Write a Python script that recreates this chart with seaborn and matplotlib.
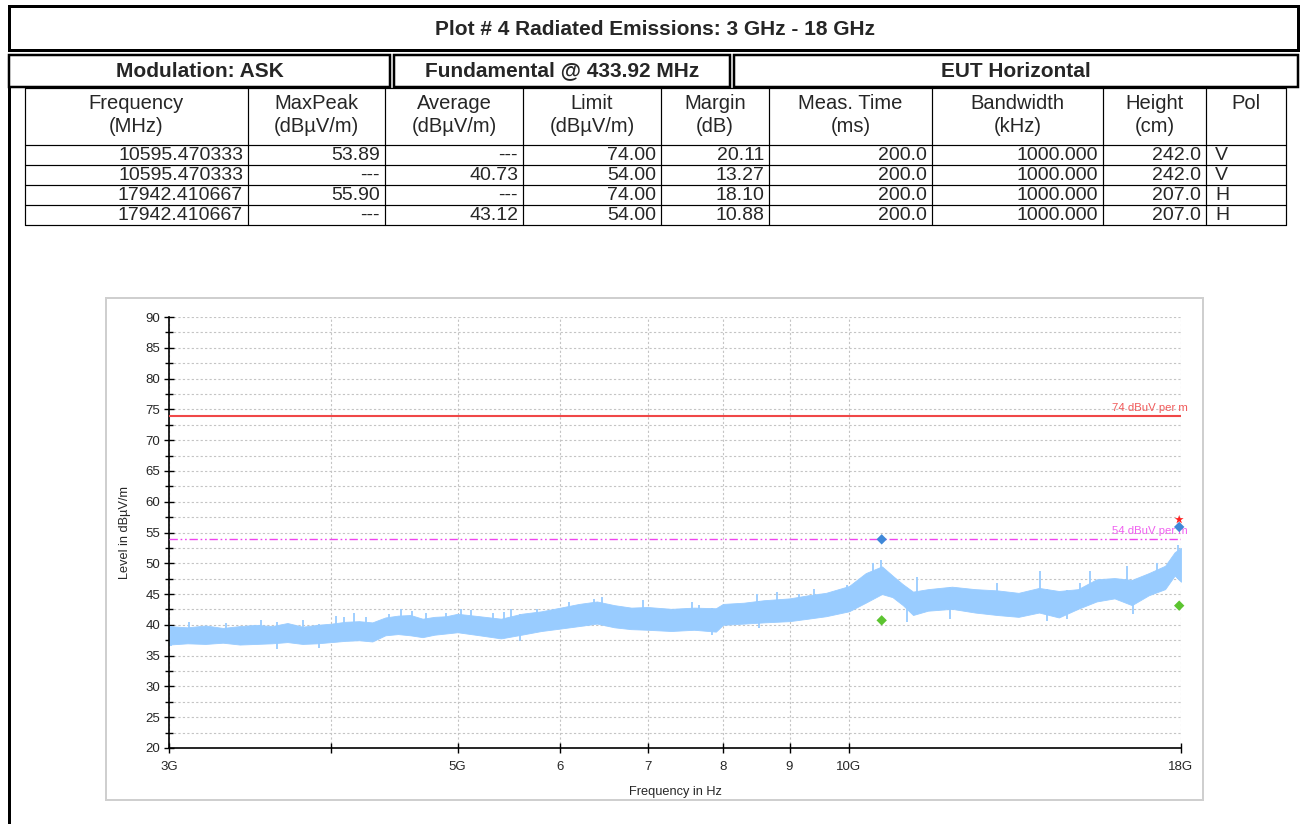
import numpy as np
import pandas as pd
import matplotlib
matplotlib.use("Agg")
import matplotlib.pyplot as plt
import seaborn as sns
from matplotlib.patches import Rectangle
from matplotlib.ticker import FixedLocator, FixedFormatter, MultipleLocator, NullLocator

# spectrum trace envelope (GHz, dBuV/m)
freq_ghz = [3.0, 3.1, 3.2, 3.3, 3.4, 3.5, 3.6, 3.7, 3.8, 3.9, 4.0, 4.1, 4.2, 4.3,
            4.4, 4.5, 4.6, 4.7, 4.8, 4.9, 5.0, 5.2, 5.4, 5.6, 5.8, 6.0, 6.2, 6.4,
            6.6, 6.8, 7.0, 7.3, 7.6, 7.9, 8.0, 8.3, 8.6, 9.0, 9.3, 9.6, 10.0, 10.3,
            10.6, 10.8, 11.0, 11.2, 11.5, 12.0, 12.5, 13.0, 13.5, 14.0, 14.5, 15.0,
            15.5, 16.0, 16.5, 17.0, 17.5, 17.8, 18.0]
trace_hi = [39.8, 39.6, 39.9, 39.5, 39.8, 40.0, 39.8, 40.3, 39.7, 40.0, 40.2, 40.5, 40.6, 40.4,
            41.2, 41.5, 41.6, 41.0, 41.3, 41.4, 41.8, 41.4, 41.0, 41.8, 42.2, 42.8, 43.4, 43.8,
            43.2, 42.8, 42.9, 42.6, 42.8, 42.7, 43.4, 43.6, 44.0, 44.3, 44.8, 45.2, 46.3, 48.4,
            49.5, 48.0, 46.6, 45.4, 45.8, 46.2, 45.8, 45.6, 45.2, 46.0, 45.5, 45.8,
            47.4, 47.6, 47.3, 48.4, 49.6, 51.8, 52.5]
trace_lo = [36.8, 37.0, 36.9, 37.1, 36.8, 36.9, 37.0, 37.2, 36.9, 37.0, 37.2, 37.4, 37.5, 37.3,
            38.3, 38.5, 38.3, 38.0, 38.4, 38.6, 38.8, 38.3, 37.8, 38.4, 39.0, 39.4, 39.8, 40.2,
            39.6, 39.3, 39.2, 39.0, 39.2, 38.9, 40.0, 40.2, 40.4, 40.6, 41.0, 41.4, 42.2, 43.6,
            45.0, 44.5, 43.2, 41.6, 42.3, 42.6, 42.0, 41.6, 41.3, 42.0, 41.2, 42.6,
            43.8, 44.3, 43.2, 44.8, 45.8, 48.0, 47.0]

# single noise spikes above / below the band
spike_up_ghz = [3.11, 3.32, 3.53, 3.63, 3.80, 3.91, 4.03, 4.09, 4.16, 4.25, 4.43, 4.52, 4.61,
                4.73, 4.90, 5.03, 5.12, 5.32, 5.43, 5.50, 5.76, 6.09, 6.37, 6.46, 6.94, 7.57,
                7.67, 8.36, 8.49, 8.81, 9.16, 9.40, 9.96, 10.43, 10.59, 11.27, 12.99, 14.02,
                15.04, 15.31, 16.36, 17.24, 17.90]
spike_up_db = [40.5, 40.3, 40.8, 40.5, 40.8, 40.2, 41.5, 41.3, 42.0, 41.3, 41.8, 42.6, 42.2,
               42.0, 42.0, 42.6, 42.4, 42.0, 42.1, 42.6, 42.5, 43.7, 44.2, 44.5, 44.0, 43.7,
               43.2, 43.6, 45.0, 45.4, 45.0, 45.8, 46.5, 50.1, 50.6, 47.7, 46.8, 48.7,
               46.8, 48.7, 49.5, 50.1, 53.0]
spike_dn_ghz = [3.01, 3.63, 3.91, 5.58, 7.85, 8.53, 11.09, 11.95, 14.19, 14.70, 16.53]
spike_dn_db = [36.5, 36.1, 36.3, 37.3, 38.3, 39.5, 40.4, 41.0, 40.7, 41.0, 41.8]

limit_peak = 74.0
limit_avg = 54.0

# final measurements
mark_freq_mhz = [10595.470333, 17942.410667]
maxpeak_vals = [53.89, 55.90]
average_vals = [40.73, 43.12]
prescan_freq_mhz = [17942.410667]
prescan_vals = [57.1]

x_ticks_ghz = [3, 4, 5, 6, 7, 8, 9, 10, 18]
x_tick_labels = ["3G", "", "5G", "6", "7", "8", "9", "10G", "18G"]

# table contents
title_text = "Plot # 4 Radiated Emissions: 3 GHz - 18 GHz"
info_cells = ["Modulation: ASK", "Fundamental @ 433.92 MHz", "EUT Horizontal"]
col_top = ["Frequency", "MaxPeak", "Average", "Limit", "Margin", "Meas. Time", "Bandwidth", "Height", "Pol"]
col_bottom = ["(MHz)", "(dBµV/m)", "(dBµV/m)", "(dBµV/m)", "(dB)", "(ms)", "(kHz)", "(cm)", ""]
table_rows = [
    ["10595.470333", "53.89", "---", "74.00", "20.11", "200.0", "1000.000", "242.0", "V"],
    ["10595.470333", "---", "40.73", "54.00", "13.27", "200.0", "1000.000", "242.0", "V"],
    ["17942.410667", "55.90", "---", "74.00", "18.10", "200.0", "1000.000", "207.0", "H"],
    ["17942.410667", "---", "43.12", "54.00", "10.88", "200.0", "1000.000", "207.0", "H"],
]

sns.set_theme(style="white")
plt.rcParams['font.family'] = ['Liberation Sans', 'DejaVu Sans']

W, H = 1301, 824
fig = plt.figure(figsize=(W / 100, H / 100), dpi=100)
fig.patch.set_facecolor("white")

# background layer in pixel coordinates for the report table
bg = fig.add_axes([0, 0, 1, 1], zorder=0)
bg.set_xlim(0, W)
bg.set_ylim(H, 0)
bg.axis("off")

px = 0.72  # one pixel in points
bg.add_patch(Rectangle((9, 6), 1289, 44, fill=False, ec="black", lw=3 * px))
cell_x = [(9, 390), (394, 730), (734, 1298)]
for (x0, x1), txt in zip(cell_x, info_cells):
    bg.add_patch(Rectangle((x0, 55), x1 - x0, 32, fill=False, ec="black", lw=2.5 * px))
    bg.text((x0 + x1) / 2, 71, txt, ha="center", va="center", fontsize=15,
            fontweight="bold")
bg.text(655, 29, title_text, ha="center", va="center", fontsize=15, fontweight="bold")
bg.plot([9, 9], [87, H], color="black", lw=3 * px)

col_edges = [25, 248, 385, 523, 661, 769, 932, 1103, 1206, 1286]
row_edges = [88, 145, 165, 185, 205, 225]
for y in row_edges:
    bg.plot([col_edges[0], col_edges[-1]], [y, y], color="black", lw=1.2 * px)
for x in col_edges:
    bg.plot([x, x], [row_edges[0], row_edges[-1]], color="black", lw=1.2 * px)

for i in range(len(col_top)):
    cx = (col_edges[i] + col_edges[i + 1]) / 2
    bg.text(cx, 103, col_top[i], ha="center", va="center", fontsize=14.5)
    bg.text(cx, 126, col_bottom[i], ha="center", va="center", fontsize=14.5)
for r, row in enumerate(table_rows):
    cy = (row_edges[r + 1] + row_edges[r + 2]) / 2 + 0.5
    for i, val in enumerate(row):
        if i == len(row) - 1:
            bg.text(col_edges[i] + 9, cy, val, ha="left", va="center", fontsize=14)
        else:
            bg.text(col_edges[i + 1] - 5, cy, val, ha="right", va="center", fontsize=14)

# chart panel frame
bg.add_patch(Rectangle((106, 298), 1097, 502, fc="white", ec="#cfcfcf", lw=2 * px))

# spectrum plot
ax = fig.add_axes([169 / W, 1 - 748 / H, (1181 - 169) / W, (748 - 317) / H], zorder=1)
ax.set_facecolor("none")
ax.set_xscale("log")

trace_col = "#99ccff"
ax.fill_between(freq_ghz, trace_lo, trace_hi, color=trace_col, lw=0.6, zorder=2)
ax.vlines(spike_up_ghz, np.interp(spike_up_ghz, freq_ghz, trace_lo), spike_up_db,
          color=trace_col, lw=1.3, zorder=2)
ax.vlines(spike_dn_ghz, spike_dn_db, np.interp(spike_dn_ghz, freq_ghz, trace_hi),
          color=trace_col, lw=1.3, zorder=2)

ax.axhline(limit_peak, color="#f04848", lw=1.5, zorder=3)
ax.axhline(limit_avg, color="#ee44ee", lw=1.0, ls=(0, (6, 2, 1.2, 2, 1.2, 2)), zorder=3)
ax.text(1.007, limit_peak + 0.4, "74 dBuV per m", transform=ax.get_yaxis_transform(),
        ha="right", va="bottom", color="#f05a5a", fontsize=8.2, clip_on=False)
ax.text(1.007, limit_avg + 0.4, "54 dBuV per m", transform=ax.get_yaxis_transform(),
        ha="right", va="bottom", color="#f060f0", fontsize=8.2, clip_on=False)

marks = pd.DataFrame({
    "f": [m / 1000 for m in mark_freq_mhz] * 2,
    "level": maxpeak_vals + average_vals,
    "kind": ["MaxPeak"] * 2 + ["Average"] * 2,
})
sns.scatterplot(data=marks, x="f", y="level", hue="kind", marker="D", s=28,
                palette={"MaxPeak": "#3f88d8", "Average": "#5cc430"},
                edgecolor="none", legend=False, ax=ax, zorder=5, clip_on=False)
sns.scatterplot(x=[m / 1000 for m in prescan_freq_mhz], y=prescan_vals, marker="*",
                s=45, color="#ff2020", edgecolor="none", ax=ax, zorder=6, clip_on=False)

ax.set_xlim(3, 18)
ax.set_ylim(20, 90)
ax.xaxis.set_major_locator(FixedLocator(x_ticks_ghz))
ax.xaxis.set_major_formatter(FixedFormatter(x_tick_labels))
ax.xaxis.set_minor_locator(NullLocator())
ax.yaxis.set_major_locator(MultipleLocator(5))
ax.yaxis.set_minor_locator(MultipleLocator(2.5))

ax.grid(which="major", axis="x", color="#c4c4c4", ls=(0, (2, 2)), lw=0.8)
ax.grid(which="both", axis="y", color="#c4c4c4", ls=(0, (2, 2)), lw=0.8)
ax.set_axisbelow(True)

for s in ["top", "right"]:
    ax.spines[s].set_visible(False)
for s in ["left", "bottom"]:
    ax.spines[s].set_color("black")
    ax.spines[s].set_linewidth(1.2)

ax.tick_params(which="major", direction="inout", length=7, width=1, color="black",
               labelsize=9.5, pad=3, left=True, bottom=True)
ax.tick_params(which="minor", direction="inout", length=6, width=1, color="black",
               left=True, bottom=False)
ax.tick_params(axis="x", pad=6)

ax.set_xlabel("Frequency in Hz", fontsize=9.2, labelpad=9)
ax.set_ylabel("Level in dBµV/m", fontsize=9.2, labelpad=10)

fig.savefig("out.png", dpi=100)
